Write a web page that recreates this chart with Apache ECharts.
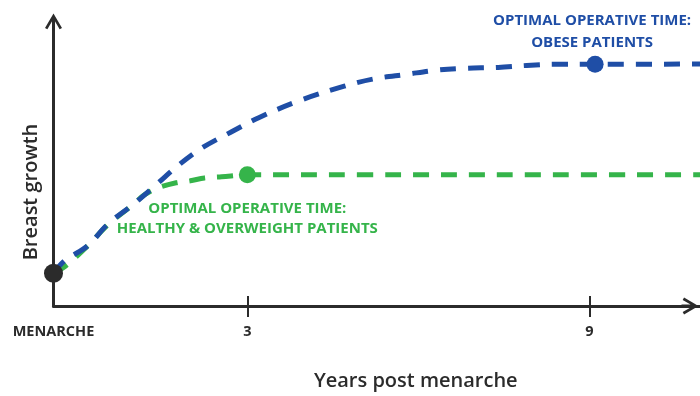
<!DOCTYPE html>
<html>
<head>
<meta charset="utf-8">
<script src="https://cdn.jsdelivr.net/npm/echarts@6/dist/echarts.min.js"></script>
<style>
  html, body { margin: 0; padding: 0; background: #ffffff; }
  #chart { width: 700px; height: 396px; }
</style>
</head>
<body>
<div id="chart"></div>
<script>
// Years after menarche (schematic time axis; menarche sits just left of year 0)
const menarcheX = -0.4;
const xTickValues = [menarcheX, 3, 9];
const xTickLabels = ['MENARCHE', '3', '9'];

// Obese patients: breast growth keeps rising until about 9 years post menarche
const obeseX = [-0.4, -0.2, 0.2, 0.55, 1.0, 1.4, 1.8, 2.2, 2.7, 3.2, 3.9, 4.7, 5.2, 5.8, 6.3, 6.8, 7.4, 7.9, 8.4, 9.1, 10.94];
const obeseY = [11.5, 16.0, 21.2, 28.8, 35.8, 42.7, 49.7, 55.6, 61.1, 66.3, 72.2, 77.4, 79.9, 81.6, 83.0, 83.7, 84.0, 84.7, 85.1, 85.1, 85.2];

// Healthy & overweight patients: growth levels off around 3 years post menarche
const healthyX = [-0.4, -0.2, 0.2, 0.55, 1.0, 1.2, 1.45, 1.75, 2.0, 2.25, 2.55, 3.0, 5.0, 8.0, 10.94];
const healthyY = [11.5, 13.9, 21.2, 28.5, 35.8, 39.2, 41.7, 43.4, 44.1, 45.1, 45.5, 46.2, 46.2, 46.2, 46.2];

// Key moments
const menarchePoint = [menarcheX, 11.5];
const healthyOptimal = [3.0, 46.2];
const obeseOptimal = [9.1, 85.1];

const blue = '#1f4ea6';
const green = '#35b44a';
const dark = '#2b2b2b';
const fontFamily = '"Open Sans", "Liberation Sans", sans-serif';

// Open chevron arrow head with a short stem, pointing up in symbol space
const arrowPath = 'path://M10,0 L20,17 L17.2,18.6 L10,6.2 L2.8,18.6 L0,17 Z M8.3,3 L11.7,3 L11.7,20 L8.3,20 Z';

const zip = (xs, ys) => xs.map((x, i) => [x, ys[i]]);

const chart = echarts.init(document.getElementById('chart'), null, { renderer: 'canvas' });

chart.setOption({
  animation: false,
  backgroundColor: '#ffffff',
  grid: { left: 53.5, right: 0, top: 22, bottom: 88, containLabel: false },
  xAxis: [
    {
      type: 'value',
      min: menarcheX,
      max: 10.94,
      name: 'Years post menarche',
      nameLocation: 'middle',
      nameGap: 65,
      nameTextStyle: {
        color: dark, fontFamily, fontSize: 20, fontWeight: 600,
        padding: [0, 0, 0, 78]
      },
      axisLine: {
        show: true,
        onZero: false,
        symbol: ['none', arrowPath],
        symbolSize: [17, 20],
        symbolOffset: [0, -10],
        lineStyle: { color: dark, width: 3 }
      },
      axisTick: {
        show: true,
        customValues: [3, 9],
        length: 11,
        lineStyle: { color: dark, width: 2 }
      },
      axisLabel: {
        show: true,
        customValues: xTickValues,
        margin: 18,
        color: dark,
        fontFamily,
        fontSize: 14.5,
        fontWeight: 700,
        formatter: (v) => {
          let best = 0;
          xTickValues.forEach((t, i) => {
            if (Math.abs(t - v) < Math.abs(xTickValues[best] - v)) best = i;
          });
          return xTickLabels[best];
        }
      },
      splitLine: { show: false }
    },
    {
      // inner half of the tick marks, crossing the axis line
      type: 'value',
      min: menarcheX,
      max: 10.94,
      position: 'bottom',
      offset: 0,
      axisLine: { show: false, onZero: false },
      axisLabel: { show: false },
      axisTick: {
        show: true,
        inside: true,
        customValues: [3, 9],
        length: 10,
        lineStyle: { color: dark, width: 2 }
      },
      splitLine: { show: false }
    }
  ],
  yAxis: {
    type: 'value',
    min: 0,
    max: 100,
    name: 'Breast growth',
    nameLocation: 'middle',
    nameGap: 12,
    nameTextStyle: {
      color: dark, fontFamily, fontSize: 20, fontWeight: 600,
      padding: [0, 56, 0, 0]
    },
    axisLine: {
      show: true,
      onZero: false,
      symbol: ['none', arrowPath],
      symbolSize: [17, 20],
      lineStyle: { color: dark, width: 3 }
    },
    axisTick: { show: false },
    axisLabel: { show: false },
    splitLine: { show: false }
  },
  series: [
    {
      name: 'Healthy & overweight',
      type: 'line',
      data: zip(healthyX, healthyY),
      smooth: 0.35,
      showSymbol: false,
      clip: false,
      lineStyle: { color: green, width: 5, type: [16, 12], cap: 'butt' },
      z: 2
    },
    {
      name: 'Obese',
      type: 'line',
      data: zip(obeseX, obeseY),
      smooth: 0.35,
      showSymbol: false,
      clip: false,
      lineStyle: { color: blue, width: 5, type: [16, 12], cap: 'butt' },
      z: 3
    },
    {
      name: 'Healthy optimal',
      type: 'scatter',
      data: [healthyOptimal],
      symbolSize: 17,
      itemStyle: { color: green, opacity: 1 },
      label: {
        show: true,
        position: 'bottom',
        distance: 15,
        color: green,
        fontFamily,
        fontSize: 15,
        fontWeight: 700,
        lineHeight: 20,
        align: 'center',
        formatter: 'OPTIMAL OPERATIVE TIME:\nHEALTHY & OVERWEIGHT PATIENTS'
      },
      z: 4
    },
    {
      name: 'Obese optimal',
      type: 'scatter',
      data: [obeseOptimal],
      symbolSize: 17,
      itemStyle: { color: blue, opacity: 1 },
      label: {
        show: true,
        position: 'top',
        distance: 2,
        offset: [-3, 0],
        color: blue,
        fontFamily,
        fontSize: 15,
        fontWeight: 700,
        lineHeight: 22,
        align: 'center',
        formatter: 'OPTIMAL OPERATIVE TIME:\nOBESE PATIENTS'
      },
      z: 4
    },
    {
      name: 'Menarche',
      type: 'scatter',
      data: [menarchePoint],
      symbolSize: 19,
      clip: false,
      itemStyle: { color: dark, opacity: 1 },
      z: 5
    }
  ]
});
</script>
</body>
</html>
